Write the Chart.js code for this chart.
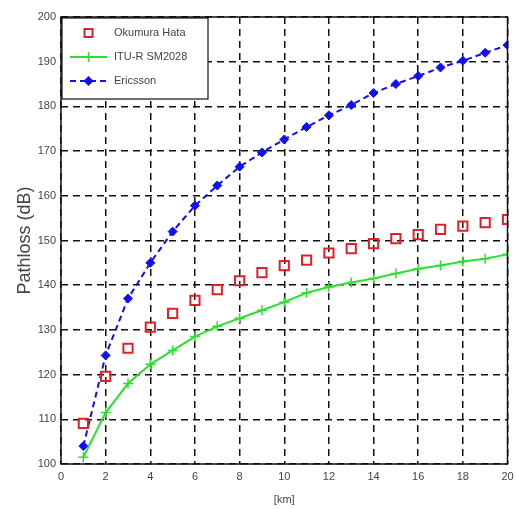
<!DOCTYPE html>
<html>
<head>
<meta charset="utf-8">
<script src="https://cdn.jsdelivr.net/npm/chart.js@4/dist/chart.umd.min.js"></script>
<style>
html,body{margin:0;padding:0;background:#fff;}
#wrap{width:516px;height:509px;}
</style>
</head>
<body>
<div id="wrap"><canvas id="c" width="516" height="509"></canvas></div>
<script>
const distanceKm = [1,2,3,4,5,6,7,8,9,10,11,12,13,14,15,16,17,18,19,20];
const okumuraHata = [109.1,119.6,125.9,130.6,133.7,136.6,139,141,142.8,144.4,145.6,147.2,148.2,149.3,150.4,151.3,152.5,153.2,154,154.7];
const ituR = [101.5,111.5,118,122.3,125.4,128.5,130.8,132.6,134.4,136.2,138.3,139.6,140.6,141.5,142.6,143.7,144.4,145.3,145.9,146.9];
const ericsson = [104,124.3,137,145,152,157.8,162.3,166.5,169.7,172.6,175.4,178,180.3,183,185,186.8,188.7,190.2,192,193.7];
const xTicks = [0,2,4,6,8,10,12,14,16,18,20];
const seriesNames = ['Okumura Hata','ITU-R SM2028','Ericsson'];

const toPts = arr => distanceKm.map((x,i)=>({x:x,y:arr[i]}));

const legendBox = {
  id:'legendBox',
  afterDraw(chart){
    const ctx = chart.ctx, a = chart.chartArea;
    ctx.save();
    ctx.strokeStyle = '#111'; ctx.lineWidth = 1.5; ctx.setLineDash([]);
    ctx.strokeRect(a.left, a.top, a.right-a.left, a.bottom-a.top);
    const x0 = a.left+1, y0 = a.top+1, w = 146, h = 81;
    ctx.fillStyle = '#fff'; ctx.fillRect(x0,y0,w,h);
    ctx.strokeStyle = '#111'; ctx.lineWidth = 1.2; ctx.strokeRect(x0,y0,w,h);
    const rows = [y0+15, y0+39, y0+63];
    const ds = chart.data.datasets;
    ctx.font = '11px "Liberation Sans", Arial, sans-serif';
    ctx.textBaseline = 'middle';
    rows.forEach((ry,i)=>{
      const d = ds[i];
      const lx1 = x0+8, lx2 = x0+45, cx = (lx1+lx2)/2;
      if (d.showLine !== false){
        ctx.strokeStyle = d.borderColor; ctx.lineWidth = d.borderWidth;
        ctx.setLineDash(d.borderDash || []);
        ctx.beginPath(); ctx.moveTo(lx1,ry); ctx.lineTo(lx2,ry); ctx.stroke();
        ctx.setLineDash([]);
      }
      ctx.strokeStyle = d.pointBorderColor; ctx.fillStyle = d.pointBackgroundColor;
      ctx.lineWidth = d.pointBorderWidth;
      if (d.pointStyle === 'rect'){
        ctx.beginPath(); ctx.rect(cx-4,ry-4,8,8); ctx.stroke();
      } else if (d.pointStyle === 'cross'){
        ctx.beginPath(); ctx.moveTo(cx-5,ry); ctx.lineTo(cx+5,ry); ctx.moveTo(cx,ry-5); ctx.lineTo(cx,ry+5); ctx.stroke();
      } else {
        ctx.beginPath(); ctx.moveTo(cx,ry-5); ctx.lineTo(cx+5,ry); ctx.lineTo(cx,ry+5); ctx.lineTo(cx-5,ry); ctx.closePath(); ctx.fill();
      }
      ctx.fillStyle = '#444';
      ctx.fillText(d.label, x0+52, ry);
    });
    ctx.restore();
  }
};

const tickFont = {family:'"Liberation Sans", Arial, sans-serif', size:11};

new Chart(document.getElementById('c'), {
  type:'line',
  data:{
    datasets:[
      {label:seriesNames[0], data:toPts(okumuraHata), showLine:false,
       borderColor:'#e3202a', backgroundColor:'rgba(0,0,0,0)',
       pointStyle:'rect', pointRadius:6.5, pointBorderWidth:2,
       pointBorderColor:'#e3202a', pointBackgroundColor:'rgba(255,255,255,0)'},
      {label:seriesNames[1], data:toPts(ituR), borderColor:'#2ee02e', borderWidth:2,
       pointStyle:'cross', pointRadius:5, pointBorderWidth:1.5,
       pointBorderColor:'#2ee02e', pointBackgroundColor:'#2ee02e', tension:0},
      {label:seriesNames[2], data:toPts(ericsson), borderColor:'#1010f0', borderWidth:2,
       borderDash:[6,4], pointStyle:'rectRot', pointRadius:4.5, pointBorderWidth:1,
       pointBorderColor:'#1010f0', pointBackgroundColor:'#1010f0', tension:0}
    ]
  },
  options:{
    responsive:false, animation:false,
    layout:{padding:{left:10,top:17,right:0,bottom:0}},
    plugins:{legend:{display:false}, tooltip:{enabled:false}},
    scales:{
      x:{type:'linear', min:0, max:20,
        afterBuildTicks(s){ s.ticks = xTicks.map(v=>({value:v})); },
        afterFit(s){ s.height = 45; s.paddingRight = 6; s.paddingLeft = 0; },
        grid:{color:'#111', lineWidth:1.5, drawTicks:false},
        border:{display:false, dash:[7,5]},
        ticks:{padding:6, color:'#444', font:tickFont},
        title:{display:true, text:'[km]', color:'#444', padding:{top:8,bottom:2}, font:tickFont}
      },
      y:{min:100, max:200,
        afterFit(s){ s.width = 51; },
        grid:{color:'#111', lineWidth:1.5, drawTicks:false},
        border:{display:false, dash:[7,5]},
        ticks:{stepSize:10, padding:5, color:'#444', font:tickFont},
        title:{display:true, text:'Pathloss (dB)', color:'#444', padding:{bottom:2}, font:{family:'"Liberation Sans", Arial, sans-serif', size:18}}
      }
    }
  },
  plugins:[legendBox]
});
</script>
</body>
</html>
